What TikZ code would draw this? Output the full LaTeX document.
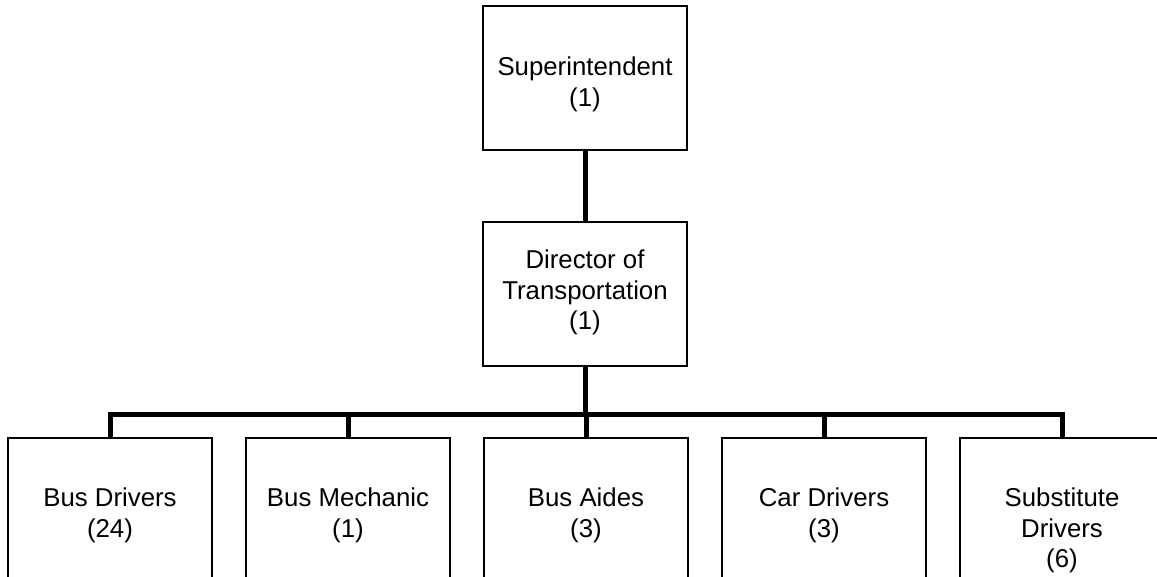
\documentclass[tikz,border=0pt]{standalone}
\usepackage{fontspec}
\setmainfont{Liberation Sans}
\begin{document}
\begin{tikzpicture}[x=1pt,y=-1pt,
  box/.style={draw=black,line width=1.3pt,fill=white,rectangle,inner sep=0pt,
    outer sep=0pt,minimum width=204pt},
  toptext/.style={anchor=north,align=center,inner sep=0pt,
    font=\fontsize{25.8}{30.2}\selectfont},
  conn/.style={line width=5pt,line join=miter,line cap=butt}]
\useasboundingbox (0,0) rectangle (1157,577);
\clip (0,0) rectangle (1157,577);

% upper two boxes
\node[box,minimum height=144pt] (sup) at (585,78) {};
\node[box,minimum height=144pt] (dir) at (585,294) {};
\node[toptext] (supt) at (585,57) {Superintendent\\(1)};
\node[toptext] (dirt) at (585,250) {Director of\\Transportation\\(1)};

% row of staff boxes, running off the lower edge
\foreach \i/\x in {1/110,2/348,3/586,4/824,5/1062}{
  \node[box,minimum height=200pt,anchor=north] (b\i) at (\x,438) {};
}
\node[toptext] (t1) at ([yshift=-50pt]b1.north) {Bus Drivers\\(24)};
\node[toptext] (t2) at ([yshift=-50pt]b2.north) {Bus Mechanic\\(1)};
\node[toptext] (t3) at ([yshift=-50pt]b3.north) {Bus Aides\\(3)};
\node[toptext] (t4) at ([yshift=-50pt]b4.north) {Car Drivers\\(3)};
\node[toptext] (t5) at ([yshift=-50pt]b5.north) {Substitute\\Drivers\\(6)};

% reporting lines
\coordinate (bus) at (585,414);
\draw[conn] (sup.south) -- (dir.north);
\draw[conn] (dir.south) -- (bus);
\draw[conn] (b1.north) -- (b1.north |- bus) -- (b5.north |- bus) -- (b5.north);
\foreach \i in {2,3,4}{
  \draw[conn] (b\i.north) -- (b\i.north |- bus);
}
\end{tikzpicture}
\end{document}
